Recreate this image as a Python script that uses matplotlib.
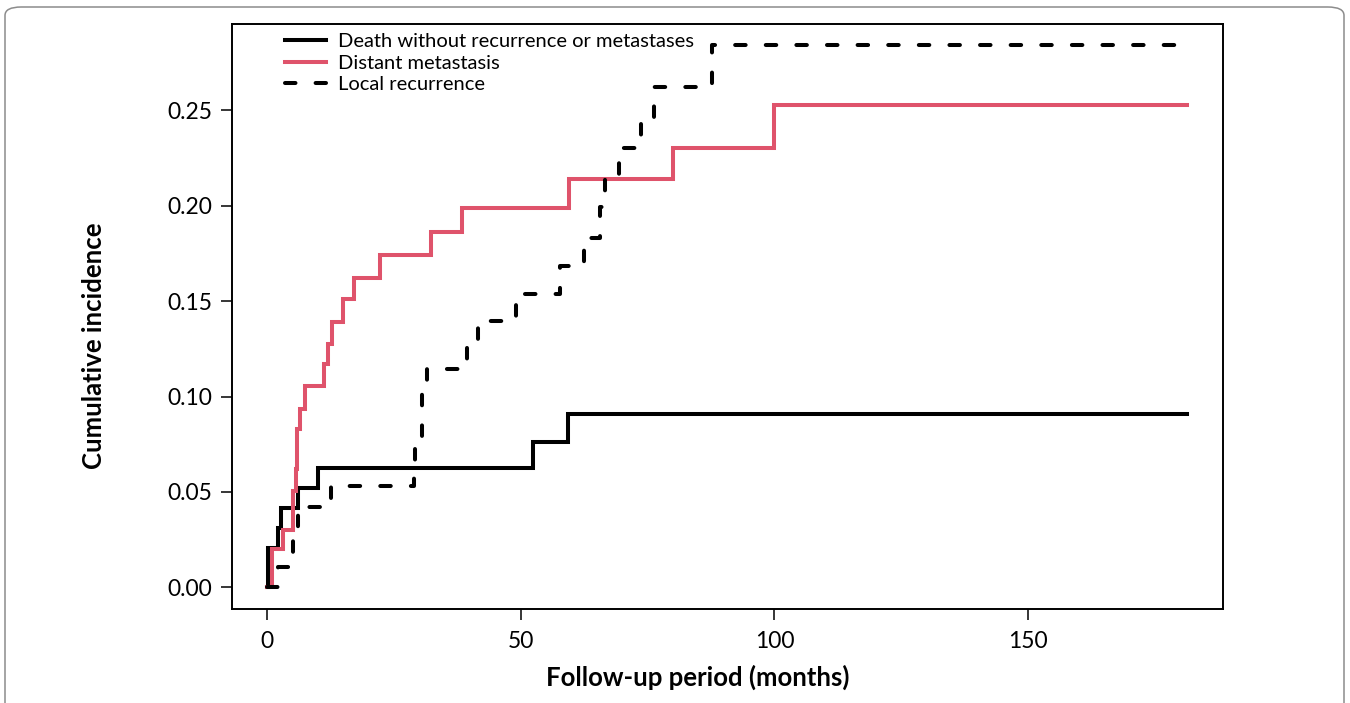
import matplotlib
matplotlib.use("Agg")
import matplotlib.pyplot as plt
from matplotlib.lines import Line2D
from matplotlib.patches import FancyBboxPatch

plt.rcParams['font.family'] = ['Lato', 'DejaVu Sans']

# ---------- Data (step functions) ----------

END_TIME = 181.4

death_t = [0, 0.25, 2.23, 2.70, 6.17, 10.11, 52.49, 59.39]
death_y = [0, 0.0208, 0.0313, 0.0417, 0.0520, 0.0625, 0.0762, 0.0909]

distant_t = [0, 0.93, 3.21, 5.18, 5.62, 5.91, 6.50, 7.39, 11.14, 12.02, 12.75,
             15.04, 17.21, 22.27, 32.33, 38.50, 59.59, 79.97, 99.94]
distant_y = [0, 0.0200, 0.0300, 0.0504, 0.0620, 0.0830, 0.0935, 0.1055, 0.1170,
             0.1275, 0.1390, 0.1510, 0.1620, 0.1740, 0.1860, 0.1990, 0.2140,
             0.2300, 0.2525]

local_t = [0, 2.17, 5.18, 6.11, 12.62, 28.88, 29.17, 30.49, 31.54, 39.42, 41.59,
           49.08, 57.76, 62.49, 65.64, 66.63, 69.39, 73.72, 76.29, 87.72]
local_y = [0, 0.0105, 0.0310, 0.0420, 0.0530, 0.0650, 0.0777, 0.1014, 0.1145,
           0.1266, 0.1397, 0.1539, 0.1686, 0.1833, 0.1991, 0.2138, 0.2300,
           0.2458, 0.2621, 0.2841]

labels = ["Death without recurrence or metastases", "Distant metastasis",
          "Local recurrence"]
x_ticks = [0, 50, 100, 150]
y_ticks = [0.00, 0.05, 0.10, 0.15, 0.20, 0.25]

RED = "#DF536B"
LW = 2.9
DASH = (2.6, 5.0)

# ---------- Figure ----------

W, H = 1350, 703
fig = plt.figure(figsize=(W / 100, H / 100), dpi=100)

# rounded frame around the whole panel
frame = FancyBboxPatch((5 / W, -0.1), (W - 11) / W, 1.1 - 7 / H,
                       boxstyle="round,pad=0,rounding_size=0.012",
                       transform=fig.transFigure, fill=False,
                       edgecolor="#8c8c8c", linewidth=1.1)
fig.patches.append(frame)

ax = fig.add_axes([232 / W, 1 - 609 / H, (1223 - 232) / W, (609 - 24) / H])


def with_end(t, y):
    return list(t) + [END_TIME], list(y) + [y[-1]]


t, y = with_end(death_t, death_y)
ax.step(t, y, where="post", color="black", lw=LW, solid_joinstyle="miter")
t, y = with_end(distant_t, distant_y)
ax.step(t, y, where="post", color=RED, lw=LW, solid_joinstyle="miter")
t, y = with_end(local_t, local_y)
ax.step(t, y, where="post", color="black", lw=LW, dashes=DASH,
        dash_capstyle="round")

ax.set_xlim(-6.9, 188.4)
ax.set_ylim(-0.01135, 0.2952)
ax.set_xticks(x_ticks)
ax.set_xticklabels([str(v) for v in x_ticks])
ax.set_yticks(y_ticks)
ax.set_yticklabels(["%.2f" % v for v in y_ticks])
ax.tick_params(direction="out", length=8, width=1.1, labelsize=16.5,
               colors="black")
ax.tick_params(axis="y", pad=6)
ax.tick_params(axis="x", pad=8)
for s in ax.spines.values():
    s.set_linewidth(1.4)

ax.set_xlabel("Follow-up period (months)", fontsize=18.5, fontweight="bold")
ax.set_ylabel("Cumulative incidence", fontsize=18.5, fontweight="bold")
ax.xaxis.set_label_coords((698 - 232) / 991, (609 - 665) / 585)
ax.yaxis.set_label_coords((106 - 232) / 991, (609 - 346) / 585)

handles = [Line2D([], [], color="black", lw=LW),
           Line2D([], [], color=RED, lw=LW),
           Line2D([], [], color="black", lw=LW, dashes=DASH,
                  dash_capstyle="round")]
ax.legend(handles, labels, loc="upper left", bbox_to_anchor=(0.045, 0.998),
          frameon=False, fontsize=14.5, handlelength=2.07, handletextpad=0.6,
          labelspacing=0.22, borderaxespad=0)

fig.savefig("out.png", dpi=100)
